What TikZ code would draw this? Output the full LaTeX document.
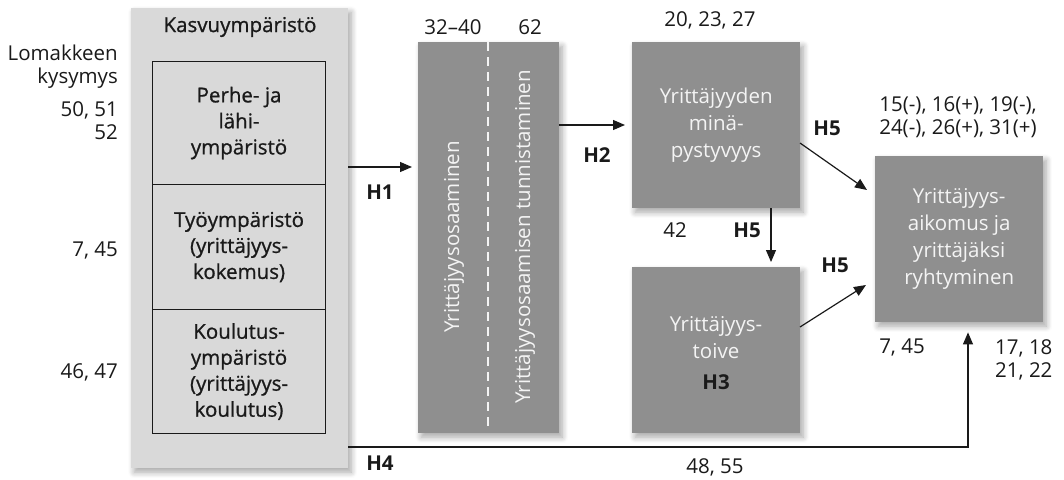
\documentclass[tikz,border=0pt]{standalone}
\usepackage{fontspec}
\setmainfont{Open Sans}
\newfontfamily\medfont[FakeBold=0.9]{Open Sans}
\usetikzlibrary{arrows.meta,shadows.blur}
\definecolor{lightbg}{HTML}{D9D9D9}
\definecolor{darkbg}{HTML}{8F8F8F}
\definecolor{ink}{HTML}{1A1A1A}
\definecolor{paper}{HTML}{F4F4F4}
\tikzset{
  shadowed/.style={blur shadow={shadow xshift=3pt,shadow yshift=-4pt,shadow blur steps=8,shadow blur radius=6pt,shadow opacity=35}},
  panel/.style={draw=none,fill=lightbg,shadowed},
  inner/.style={draw=ink,line width=1.1pt,fill=lightbg,align=center,text=ink,font=\medfont\fontsize{20.5}{26}\selectfont},
  darkbox/.style={draw=none,fill=darkbg,shadowed,align=center,text=paper,font=\fontsize{20.5}{27}\selectfont},
  boxtext/.style={align=center,text=paper,font=\fontsize{20.5}{27}\selectfont,inner sep=0pt},
  num/.style={text=ink,font=\fontsize{20.5}{23}\selectfont,inner sep=0pt},
  hyp/.style={text=ink,font=\fontsize{20.5}{23}\selectfont\bfseries,inner sep=0pt},
  arr/.style={draw=ink,line width=1.2pt,-{Triangle[length=12pt,width=10pt]}},
}
\begin{document}
\begin{tikzpicture}[x=1pt,y=-1pt]
\useasboundingbox (0,0) rectangle (1064,479);
% Kasvuympäristö panel
\node[panel,minimum width=217pt,minimum height=460pt,anchor=north west,inner sep=0pt] (kasvu) at (131,8) {};
\node[num,font=\medfont\fontsize{20.5}{23}\selectfont] (ktitle) at (240,27) {Kasvuympäristö};
\node[inner,minimum width=173pt,minimum height=123pt,anchor=north west,inner sep=0pt] (perhe) at (152,61) {Perhe- ja\\lähi-\\ympäristö};
\node[inner,minimum width=173pt,minimum height=125pt,anchor=north west,inner sep=0pt] (tyo) at (152,184) {Työympäristö\\(yrittäjyys-\\kokemus)};
\node[inner,minimum width=173pt,minimum height=124pt,anchor=north west,inner sep=0pt] (koul) at (152,309) {Koulutus-\\ympäristö\\(yrittäjyys-\\koulutus)};
% left labels
\node[num,align=right,anchor=east] (lomake) at (118,67) {Lomakkeen\\kysymys};
\node[num,align=right,anchor=east] (q1) at (118,121) {50, 51\\52};
\node[num,anchor=east] (q2) at (118,250) {7, 45};
\node[num,anchor=east] (q3) at (118,372) {46, 47};
% vertical box
\node[darkbox,minimum width=141pt,minimum height=391pt,anchor=north west,inner sep=0pt] (vbox) at (418,42) {};
\coordinate (dtop) at (488,42);
\coordinate (dbot) at (488,427);
\draw[paper,line width=1.3pt,dash pattern=on 9pt off 6pt] (dtop) -- (dbot);
\node[boxtext,rotate=90] (osaa) at (454,237) {Yrittäjyysosaaminen};
\node[boxtext,rotate=90] (tunn) at (525,237) {Yrittäjyysosaamisen tunnistaminen};
\node[num] (n3240) at (453,27) {32–40};
\node[num] (n62) at (530,27) {62};
% minäpystyvyys
\node[darkbox,minimum width=168pt,minimum height=166pt,anchor=north west,inner sep=0pt] (mina) at (632,42) {Yrittäjyyden\\minä-\\pystyvyys};
\node[num] (n202327) at (710,20) {20, 23, 27};
\node[num] (n42) at (675,230) {42};
% toive
\node[darkbox,minimum width=168pt,minimum height=166pt,anchor=north west,inner sep=0pt] (toive) at (632,267) {};
\node[boxtext] (toivet) at (716,338) {Yrittäjyys-\\toive};
\node[hyp] (h3) at (716,382) {H3};
% aikomus
\node[darkbox,minimum width=168pt,minimum height=166pt,anchor=north west,inner sep=0pt] (aik) at (875,156) {Yrittäjyys-\\aikomus ja\\yrittäjäksi\\ryhtyminen};
\node[num,align=center] (nplus) at (958,117) {15(-), 16(+), 19(-),\\24(-), 26(+), 31(+)};
\node[num] (n745) at (902,347) {7, 45};
\node[num,align=left,anchor=west] (n1718) at (995,360) {17, 18\\21, 22};
\node[num] (n4855) at (715,467) {48, 55};
% connectors
\coordinate (h1s) at (348,167);
\coordinate (h1e) at (412,167);
\draw[arr] (kasvu.east |- h1s) -- (h1e);
\node[hyp] (h1) at (380,192) {H1};
\coordinate (h2y) at (0,125);
\draw[arr,shorten >=7pt] (vbox.east |- h2y) -- (mina.west |- h2y);
\node[hyp] (h2) at (597,155) {H2};
\coordinate (h5as) at (800,143);
\coordinate (h5ae) at (867,190);
\draw[arr] (h5as) -- (h5ae);
\node[hyp] (h5a) at (827,128) {H5};
\coordinate (h5bx) at (771,0);
\draw[arr,shorten >=5pt] (mina.south -| h5bx) -- (toive.north -| h5bx);
\node[hyp] (h5b) at (747,230) {H5};
\coordinate (h5cs) at (800,327);
\coordinate (h5ce) at (866,285);
\draw[arr] (h5cs) -- (h5ce);
\node[hyp] (h5c) at (835,265) {H5};
\coordinate (h4y) at (0,447);
\coordinate (h4x) at (968,0);
\draw[arr,shorten >=10pt] (kasvu.east |- h4y) -| (aik.south -| h4x);
\node[hyp] (h4) at (380,463) {H4};
\end{tikzpicture}
\end{document}
